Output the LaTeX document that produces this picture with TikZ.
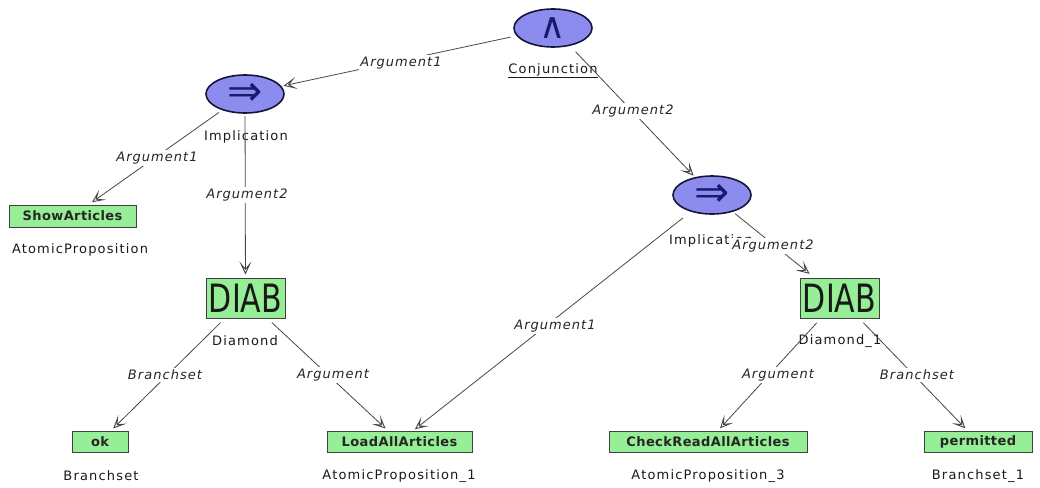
\documentclass[tikz,border=0pt]{standalone}
\usepackage{fontspec}
\setmainfont{DejaVu Sans}
\newfontfamily\capfont[LetterSpace=9]{DejaVu Sans}
\newfontfamily\labfont[LetterSpace=8]{DejaVu Sans}
\newfontfamily\boxfont[LetterSpace=3]{DejaVu Sans}
\usetikzlibrary{arrows.meta,shapes.geometric}
\definecolor{opfill}{RGB}{140,140,238}
\definecolor{opline}{RGB}{20,20,60}
\definecolor{opsym}{RGB}{25,25,110}
\definecolor{propfill}{RGB}{150,238,150}
\definecolor{edgegray}{RGB}{70,70,70}
\tikzset{
  opnode/.style={ellipse, draw=opline, line width=1.6pt, fill=opfill,
    minimum width=78pt, minimum height=38pt, inner sep=0pt, text=opsym},
  propbox/.style={rectangle, draw=black!75, line width=0.9pt, fill=propfill,
    inner sep=0pt, font=\boxfont\fontsize{13}{15}\selectfont\bfseries, text=black!85},
  diabbox/.style={rectangle, draw=black!75, line width=0.9pt, fill=propfill,
    inner sep=0pt, minimum width=79pt, minimum height=40pt,
    font=\fontsize{30}{32}\selectfont, text=black!90},
  caption/.style={font=\capfont\fontsize{13}{15}\selectfont, text=black!90, inner sep=0pt},
  rolelabel/.style={font=\labfont\fontsize{13}{15}\selectfont\itshape, text=black!85,
    fill=white, inner sep=1.5pt},
  rel/.style={draw=edgegray, line width=0.8pt,
    -{Stealth[open, length=13pt, width=12pt, inset=7pt, line width=0.9pt]}},
}
\begin{document}
\begin{tikzpicture}[x=1pt, y=-1pt]
\useasboundingbox (0,0) rectangle (1040,487);

% operator nodes
\node[opnode] (conj) at (553,28) {\fontsize{36}{38}\selectfont ∧};
\node[opnode] (implL) at (245,94) {\fontsize{42}{44}\selectfont ⇒};
\node[opnode] (implR) at (712,195) {\fontsize{42}{44}\selectfont ⇒};

% propositions and modal boxes
\node[propbox, minimum width=127pt, minimum height=22pt] (show) at (72.5,216) {ShowArticles};
\node[diabbox] (diabL) at (245.5,298) {\scalebox{1}[1.3]{DIAB}};
\node[diabbox] (diabR) at (839.5,298) {\scalebox{1}[1.3]{DIAB}};
\node[propbox, minimum width=56pt, minimum height=21pt] (ok) at (100,441.5) {ok};
\node[propbox, minimum width=145pt, minimum height=21pt] (load) at (399.5,441.5) {LoadAllArticles};
\node[propbox, minimum width=198pt, minimum height=21pt] (check) at (708,441.5) {CheckReadAllArticles};
\node[propbox, minimum width=108pt, minimum height=21pt] (perm) at (978,441.5) {permitted};

% captions beneath the nodes
\node[caption] (capConj) at (553,71) {\underline{Conjunction}};
\node[caption] (capImplL) at (246,137) {Implication};
\node[caption] (capImplR) at (711,241) {Implication};
\node[caption] (capShow) at (80,250) {AtomicProposition};
\node[caption] (capDiabL) at (245,341) {Diamond};
\node[caption] (capDiabR) at (840,341) {Diamond\_1};
\node[caption] (capOk) at (101,476) {Branchset};
\node[caption] (capLoad) at (399,476) {AtomicProposition\_1};
\node[caption] (capCheck) at (708,476) {AtomicProposition\_3};
\node[caption] (capPerm) at (978,476) {Branchset\_1};

% relations
\draw[rel, shorten <=6pt, shorten >=2pt] (conj) -- (implL);
\draw[rel, shorten <=8pt, shorten >=2pt] (conj) -- (implR);
\draw[rel, shorten <=4pt, shorten >=4pt] (implL) -- (show);
\draw[rel, shorten <=2pt, shorten >=3pt] (implL) -- (diabL);
\draw[rel, shorten <=10pt, shorten >=2pt] (implR) -- (load);
\draw[rel, shorten <=3pt, shorten >=6pt] (implR) -- (diabR);
\draw[rel, shorten <=6pt, shorten >=3pt] (diabL) -- (ok);
\draw[rel, shorten <=6pt, shorten >=3pt] (diabL) -- (load);
\draw[rel, shorten <=6pt, shorten >=3pt] (diabR) -- (check);
\draw[rel, shorten <=6pt, shorten >=3pt] (diabR) -- (perm);

% role labels on the relations
\node[rolelabel] (lConjL) at (401,63) {Argument1};
\node[rolelabel] (lConjR) at (633,111) {Argument2};
\node[rolelabel] (lImplLShow) at (157,158) {Argument1};
\node[rolelabel] (lImplLDiab) at (247,195) {Argument2};
\node[rolelabel] (lImplRLoad) at (555,326) {Argument1};
\node[rolelabel] (lImplRDiab) at (773,246) {Argument2};
\node[rolelabel] (lDiabLOk) at (165,375) {Branchset};
\node[rolelabel] (lDiabLLoad) at (333,375) {Argument};
\node[rolelabel] (lDiabRCheck) at (778,375) {Argument};
\node[rolelabel] (lDiabRPerm) at (917,375) {Branchset};
\end{tikzpicture}
\end{document}
